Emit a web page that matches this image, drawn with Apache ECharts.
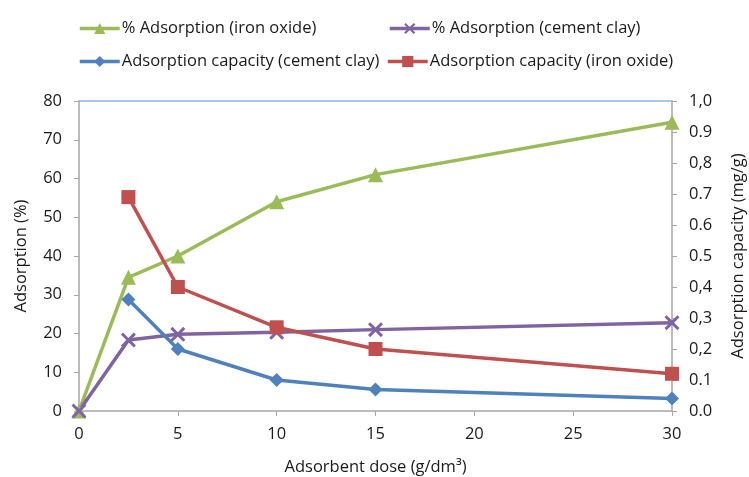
<!DOCTYPE html>
<html><head><meta charset="utf-8">
<script src="https://cdn.jsdelivr.net/npm/echarts@6/dist/echarts.min.js"></script>
<style>html,body{margin:0;padding:0;background:#fff}#c{width:749px;height:477px}</style>
</head><body><div id="c"></div>
<script>
const doses = [0, 2.5, 5, 10, 15, 30];
const pctIron = [0, 34.5, 40, 54, 61, 74.5];
const pctClay = [0, 18.3, 19.8, 20.3, 21, 22.8];
const capClay = [null, 0.36, 0.20, 0.10, 0.069, 0.04];
const capIron = [null, 0.69, 0.40, 0.27, 0.20, 0.12];
const rightTickLabels = ["0.0","0.1","0,2","0,3","0,4","0.5","0.6","0.7","0,8","0.9","1,0"];
const names = ["% Adsorption (iron oxide)", "% Adsorption (cement clay)", "Adsorption capacity (cement clay)", "Adsorption capacity (iron oxide)"];

const FONT = "Open Sans";
const xMark = 'path://M0,1.4 L1.4,0 L5,3.6 L8.6,0 L10,1.4 L6.4,5 L10,8.6 L8.6,10 L5,6.4 L1.4,10 L0,8.6 L3.6,5 Z';
function pts(ys){ const o=[]; doses.forEach((d,i)=>{ if(ys[i]!==null) o.push([d,ys[i]]); }); return o; }

const chart = echarts.init(document.getElementById('c'), null, {renderer:'canvas'});
const txt = {color:'#1a1a1a', fontFamily:FONT, fontSize:16.5};
function leg(name, left, top){
  return {data:[name], left:left, top:top, itemWidth:40, itemHeight:14, itemGap:0,
    lineStyle:{width:3.5},
    textStyle:Object.assign({}, txt, {padding:[0,0,0,-3]}), padding:0};
}
const axisLineStyle = {color:'#A6A6A6', width:1.5};
chart.setOption({
  animation:false,
  legend:[leg(names[0],78,20), leg(names[1],388,20), leg(names[2],78,53), leg(names[3],386,53)],
  grid:{left:79, right:77, top:101, bottom:66, outerBoundsMode:'none', containLabel:false},
  xAxis:[{
    type:'value', min:0, max:30, interval:5,
    name:'Adsorbent dose (g/dm³)', nameLocation:'middle', nameGap:48,
    nameTextStyle:txt,
    axisLine:{lineStyle:axisLineStyle},
    axisTick:{inside:false, length:5, lineStyle:{color:'#A6A6A6'}},
    axisLabel:Object.assign({}, txt, {margin:15}),
    splitLine:{show:false}
  },{
    type:'value', min:0, max:30, position:'top',
    axisLine:{show:true, onZero:false, lineStyle:{color:'#8EB4E3', width:1.5}},
    axisTick:{show:false}, axisLabel:{show:false}, splitLine:{show:false}
  }],
  yAxis:[{
    type:'value', min:0, max:80, interval:10,
    name:'Adsorption (%)', nameLocation:'middle', nameGap:49, nameRotate:90,
    nameTextStyle:txt,
    axisLine:{show:true, onZero:false, lineStyle:axisLineStyle},
    axisTick:{show:true, inside:false, length:5, lineStyle:{color:'#A6A6A6'}},
    axisLabel:Object.assign({}, txt, {margin:17}),
    splitLine:{show:false}
  },{
    type:'value', min:0, max:1, interval:0.1, position:'right',
    name:'Adsorption capacity (mg/g)', nameLocation:'middle', nameGap:58, nameRotate:90,
    nameTextStyle:txt,
    axisLine:{show:true, onZero:false, lineStyle:axisLineStyle},
    axisTick:{show:true, inside:false, length:5, lineStyle:{color:'#A6A6A6'}},
    axisLabel:Object.assign({}, txt, {margin:17,
      formatter:(v)=>rightTickLabels[Math.round(v*10)]}),
    splitLine:{show:false}
  }],
  series:[
    {name:names[0], type:'line', yAxisIndex:0, data:pts(pctIron), symbol:'triangle', symbolSize:15,
     color:'#9BBB59', lineStyle:{width:3.5, color:'#9BBB59'}, itemStyle:{color:'#9BBB59'}},
    {name:names[1], type:'line', yAxisIndex:0, data:pts(pctClay), symbol:xMark, symbolSize:15,
     color:'#8064A2', lineStyle:{width:3.5, color:'#8064A2'}, itemStyle:{color:'#8064A2'}},
    {name:names[2], type:'line', yAxisIndex:1, data:pts(capClay), symbol:'diamond', symbolSize:14,
     color:'#4F81BD', lineStyle:{width:3.5, color:'#4F81BD'}, itemStyle:{color:'#4F81BD'}},
    {name:names[3], type:'line', yAxisIndex:1, data:pts(capIron), symbol:'rect', symbolSize:14,
     color:'#C0504D', lineStyle:{width:3.5, color:'#C0504D'}, itemStyle:{color:'#C0504D'}}
  ]
});
</script></body></html>
